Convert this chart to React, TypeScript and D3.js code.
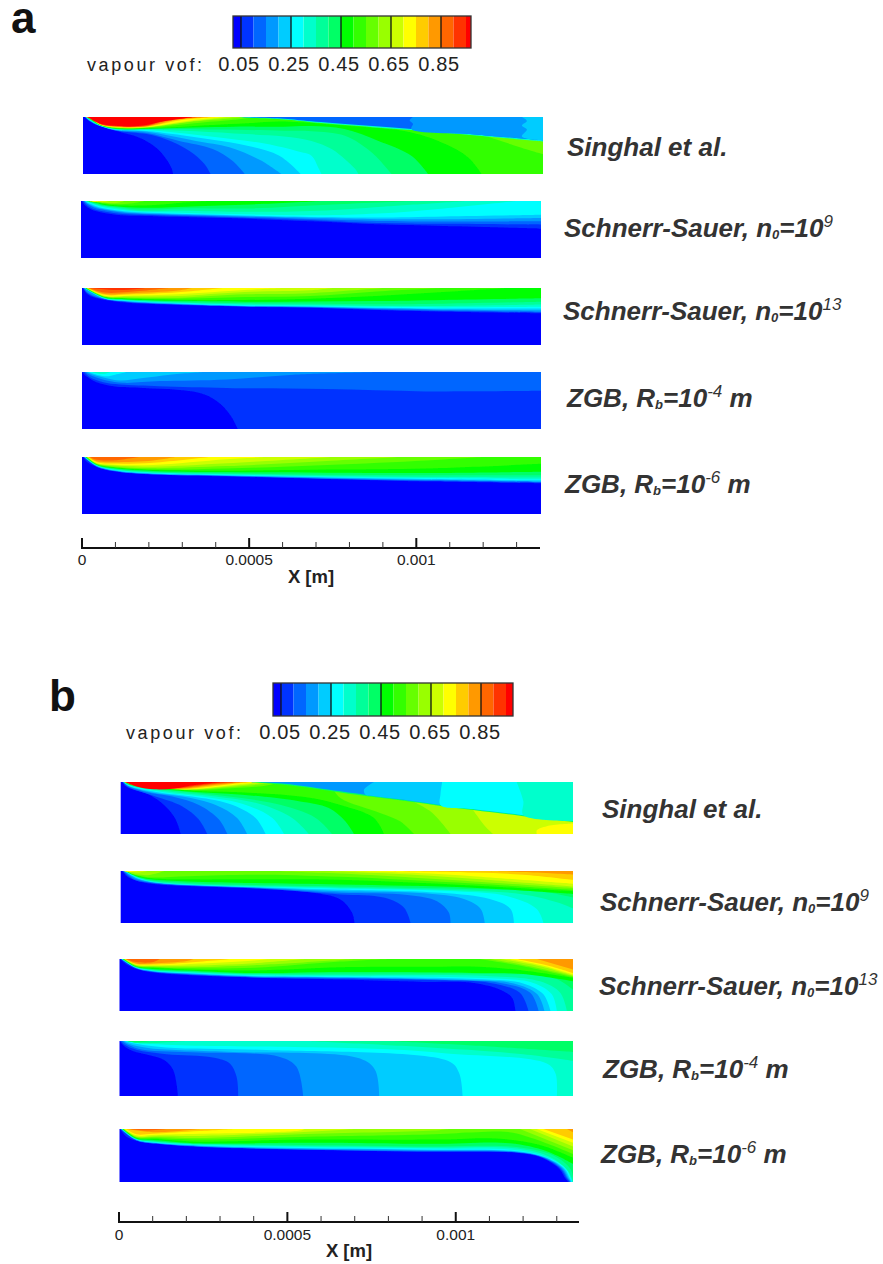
import React from 'react';
import * as d3 from 'd3';

type P = [number, number];
// [vapour fraction above this line, line as [x in mm, depth 0..1]]
type Contour = [number, P[]];

const thresholds = [0.05, 0.1, 0.15, 0.2, 0.25, 0.3, 0.35, 0.4, 0.45, 0.5, 0.55, 0.6, 0.65, 0.7, 0.75, 0.8, 0.85, 0.9, 0.95];
const bandColors = ['#0000ff', '#0033ff', '#0066ff', '#0099ff', '#00ccff', '#00ffff', '#00ffcc', '#00ff99', '#00ff66', '#00ff00', '#33ff00', '#66ff00', '#99ff00', '#ccff00', '#ffff00', '#ffcc00', '#ff9900', '#ff6600', '#ff3300', '#ff0000'];
const legendTicks = [0.05, 0.25, 0.45, 0.65, 0.85];
const majorTicks = [0, 0.0005, 0.001];
const majorLabels = ['0', '0.0005', '0.001'];
const minorTicks = [0.0001, 0.0002, 0.0003, 0.0004, 0.0006, 0.0007, 0.0008, 0.0009, 0.0011, 0.0012, 0.0013];

const color = d3.scaleThreshold<number, string>().domain(thresholds).range(bandColors);

// Panel a
const singhalA: Contour[] = [
  [0.05, [[0.006, 0], [0.018, 0.07], [0.05, 0.16], [0.1, 0.245], [0.167, 0.36], [0.217, 0.53], [0.249, 0.74], [0.265, 0.91], [0.269, 1]]],
  [0.1, [[0.0065, 0], [0.019, 0.068], [0.05, 0.157], [0.1, 0.24], [0.19, 0.3], [0.247, 0.39], [0.317, 0.59], [0.362, 0.82], [0.381, 1]]],
  [0.15, [[0.007, 0], [0.02, 0.066], [0.05, 0.155], [0.1, 0.235], [0.19, 0.28], [0.287, 0.42], [0.387, 0.56], [0.447, 0.77], [0.483, 1]]],
  [0.2, [[0.0075, 0], [0.021, 0.064], [0.05, 0.152], [0.1, 0.23], [0.19, 0.26], [0.337, 0.42], [0.437, 0.53], [0.53, 0.76], [0.592, 1]]],
  [0.25, [[0.008, 0], [0.022, 0.062], [0.05, 0.15], [0.1, 0.225], [0.19, 0.245], [0.267, 0.3], [0.387, 0.4], [0.487, 0.5], [0.586, 0.68], [0.65, 1]]],
  [0.3, [[0.0085, 0], [0.023, 0.06], [0.05, 0.147], [0.1, 0.22], [0.19, 0.23], [0.287, 0.28], [0.437, 0.38], [0.546, 0.47], [0.64, 0.6], [0.682, 0.68], [0.702, 0.885], [0.712, 1]]],
  [0.35, [[0.009, 0], [0.024, 0.058], [0.05, 0.145], [0.1, 0.215], [0.19, 0.22], [0.337, 0.25], [0.487, 0.3], [0.6, 0.34], [0.682, 0.42], [0.742, 0.56], [0.782, 0.74], [0.812, 0.91], [0.822, 1]]],
  [0.4, [[0.0095, 0], [0.025, 0.056], [0.05, 0.142], [0.1, 0.21], [0.19, 0.21], [0.4, 0.22], [0.6, 0.24], [0.682, 0.25], [0.782, 0.33], [0.861, 0.62], [0.921, 1]]],
  [0.45, [[0.01, 0], [0.026, 0.054], [0.05, 0.14], [0.1, 0.205], [0.22, 0.2], [0.45, 0.17], [0.6, 0.17], [0.682, 0.16], [0.78, 0.21], [0.88, 0.415], [0.98, 0.68], [1.03, 1]]],
  [0.5, [[0.0105, 0], [0.027, 0.052], [0.05, 0.137], [0.1, 0.2], [0.207, 0.195], [0.387, 0.14], [0.487, 0.11], [0.586, 0.08], [0.78, 0.15], [0.98, 0.27], [1.08, 0.47], [1.15, 0.71], [1.19, 1]]],
  [0.55, [[0.011, 0], [0.028, 0.05], [0.05, 0.135], [0.1, 0.195], [0.19, 0.19], [0.35, 0.1], [0.45, 0.05], [0.52, 0]]],
  [0.55, [[1.2, 0.33], [1.32, 0.56], [1.373, 0.65]]],
  [0.6, [[0.0112, 0], [0.029, 0.048], [0.05, 0.132], [0.1, 0.19], [0.19, 0.185], [0.33, 0.08], [0.43, 0.03], [0.48, 0]]],
  [0.65, [[0.0115, 0], [0.03, 0.046], [0.05, 0.13], [0.1, 0.185], [0.19, 0.18], [0.33, 0.07], [0.41, 0.02], [0.45, 0]]],
  [0.7, [[0.0118, 0], [0.031, 0.044], [0.05, 0.127], [0.1, 0.18], [0.19, 0.175], [0.32, 0.06], [0.42, 0]]],
  [0.75, [[0.012, 0], [0.032, 0.042], [0.05, 0.125], [0.1, 0.175], [0.19, 0.17], [0.3, 0.05], [0.4, 0]]],
  [0.8, [[0.0123, 0], [0.033, 0.04], [0.05, 0.122], [0.1, 0.17], [0.19, 0.165], [0.28, 0.05], [0.38, 0]]],
  [0.85, [[0.0125, 0], [0.034, 0.038], [0.05, 0.12], [0.1, 0.165], [0.19, 0.16], [0.26, 0.05], [0.36, 0]]],
  [0.9, [[0.0128, 0], [0.035, 0.036], [0.05, 0.117], [0.1, 0.16], [0.19, 0.15], [0.24, 0.065], [0.34, 0]]],
  [0.95, [[0.013, 0], [0.048, 0.11], [0.088, 0.15], [0.138, 0.165], [0.188, 0.14], [0.238, 0.08], [0.288, 0.035], [0.328, 0]]],
];
const shockA: P[] = [[0.45, 0], [0.6, 0.045], [0.682, 0.09], [0.98, 0.23], [1.18, 0.33], [1.373, 0.43]];
const shockAEdge: P[] = [[0.45, 0], [0.6, 0.03], [0.682, 0.075], [0.98, 0.21], [1.18, 0.31], [1.373, 0.41]];
const wedgeA: Contour[] = [
  [0.3, shockA],
  [0.1, shockAEdge],
  [0.15, [[0.985, 0], [0.975, 0.06], [0.985, 0.12], [0.98, 0.21], [1.18, 0.31], [1.373, 0.41]]],
  [0.2, [[1.31, 0], [1.325, 0.07], [1.31, 0.15], [1.325, 0.22], [1.31, 0.34], [1.373, 0.41]]],
];
const schnerr9A: Contour[] = [
  [0.05, [[0.003, 0], [0.011, 0.07], [0.031, 0.15], [0.061, 0.2], [0.121, 0.25], [0.24, 0.27], [0.44, 0.3], [0.709, 0.36], [0.885, 0.41], [1.084, 0.44], [1.373, 0.485]]],
  [0.1, [[0.006, 0], [0.015, 0.06], [0.035, 0.135], [0.065, 0.18], [0.125, 0.23], [0.245, 0.255], [0.44, 0.285], [0.709, 0.34], [0.885, 0.385], [1.084, 0.4], [1.373, 0.415]]],
  [0.15, [[0.008, 0], [0.018, 0.05], [0.04, 0.12], [0.07, 0.16], [0.13, 0.21], [0.25, 0.24], [0.44, 0.27], [0.709, 0.32], [0.885, 0.35], [1.084, 0.36], [1.373, 0.357]]],
  [0.2, [[0.01, 0], [0.022, 0.05], [0.045, 0.11], [0.075, 0.15], [0.14, 0.2], [0.26, 0.23], [0.45, 0.26], [0.709, 0.3], [0.885, 0.32], [1.084, 0.32], [1.373, 0.3]]],
  [0.25, [[0.012, 0], [0.026, 0.045], [0.05, 0.1], [0.08, 0.14], [0.15, 0.19], [0.27, 0.22], [0.46, 0.25], [0.709, 0.28], [0.885, 0.29], [1.084, 0.27], [1.373, 0.24]]],
  [0.3, [[0.014, 0], [0.03, 0.04], [0.055, 0.09], [0.09, 0.13], [0.16, 0.18], [0.28, 0.2], [0.46, 0.23], [0.709, 0.25], [0.885, 0.22], [1.084, 0.13], [1.3, 0]]],
  [0.35, [[0.016, 0], [0.035, 0.04], [0.06, 0.085], [0.1, 0.12], [0.17, 0.17], [0.3, 0.17], [0.5, 0.19], [0.709, 0.17], [0.9, 0.1], [1.15, 0]]],
  [0.4, [[0.018, 0], [0.04, 0.035], [0.065, 0.08], [0.11, 0.11], [0.18, 0.15], [0.3, 0.13], [0.5, 0.13], [0.75, 0.06], [1.0, 0]]],
  [0.45, [[0.02, 0], [0.045, 0.03], [0.07, 0.07], [0.12, 0.1], [0.2, 0.12], [0.35, 0.09], [0.55, 0.05], [0.72, 0]]],
  [0.5, [[0.022, 0], [0.05, 0.03], [0.08, 0.06], [0.13, 0.08], [0.22, 0.07], [0.3, 0.03], [0.38, 0]]],
  [0.55, [[0.024, 0], [0.055, 0.025], [0.09, 0.05], [0.14, 0.05], [0.19, 0]]],
  [0.6, [[0.027, 0], [0.06, 0.02], [0.1, 0.04], [0.13, 0]]],
  [0.65, [[0.03, 0], [0.065, 0.02], [0.085, 0]]],
  [0.7, [[0.02, 0], [0.04, 0.012], [0.06, 0]]],
];
const schnerr13A: Contour[] = [
  [0.05, [[0.003, 0], [0.013, 0.09], [0.033, 0.16], [0.068, 0.21], [0.138, 0.26], [0.287, 0.3], [0.486, 0.33], [0.682, 0.345], [0.88, 0.385], [1.08, 0.415], [1.373, 0.445]]],
  [0.1, [[0.004, 0], [0.015, 0.085], [0.035, 0.15], [0.07, 0.2], [0.138, 0.25], [0.287, 0.29], [0.486, 0.325], [0.682, 0.34], [0.88, 0.375], [1.08, 0.405], [1.373, 0.43]]],
  [0.15, [[0.005, 0], [0.017, 0.08], [0.037, 0.14], [0.072, 0.195], [0.138, 0.24], [0.287, 0.285], [0.486, 0.32], [0.682, 0.335], [0.88, 0.365], [1.08, 0.39], [1.373, 0.415]]],
  [0.2, [[0.006, 0], [0.068, 0.19], [0.138, 0.235], [0.287, 0.28], [0.486, 0.315], [0.682, 0.33], [0.88, 0.355], [1.08, 0.375], [1.373, 0.39]]],
  [0.25, [[0.007, 0], [0.068, 0.185], [0.138, 0.23], [0.287, 0.27], [0.486, 0.31], [0.682, 0.32], [0.88, 0.345], [1.08, 0.36], [1.373, 0.36]]],
  [0.3, [[0.008, 0], [0.068, 0.18], [0.138, 0.22], [0.287, 0.265], [0.486, 0.3], [0.682, 0.31], [0.88, 0.33], [1.08, 0.34], [1.373, 0.33]]],
  [0.35, [[0.009, 0], [0.068, 0.175], [0.138, 0.215], [0.287, 0.255], [0.486, 0.285], [0.682, 0.295], [0.88, 0.315], [1.08, 0.315], [1.373, 0.29]]],
  [0.4, [[0.01, 0], [0.068, 0.17], [0.138, 0.205], [0.287, 0.24], [0.486, 0.265], [0.682, 0.27], [0.88, 0.285], [1.08, 0.275], [1.373, 0.24]]],
  [0.45, [[0.011, 0], [0.068, 0.165], [0.138, 0.2], [0.287, 0.225], [0.486, 0.24], [0.682, 0.235], [0.88, 0.23], [1.08, 0.21], [1.373, 0.18]]],
  [0.5, [[0.012, 0], [0.068, 0.16], [0.138, 0.19], [0.287, 0.21], [0.486, 0.21], [0.682, 0.19], [0.88, 0.14], [1.08, 0.07], [1.27, 0]]],
  [0.55, [[0.013, 0], [0.068, 0.155], [0.138, 0.18], [0.287, 0.19], [0.486, 0.16], [0.682, 0.14], [0.88, 0.06], [1.08, 0]]],
  [0.6, [[0.014, 0], [0.068, 0.15], [0.138, 0.165], [0.287, 0.17], [0.486, 0.11], [0.682, 0.09], [0.9, 0]]],
  [0.65, [[0.015, 0], [0.068, 0.145], [0.138, 0.15], [0.287, 0.14], [0.486, 0.07], [0.682, 0.04], [0.75, 0]]],
  [0.7, [[0.016, 0], [0.068, 0.135], [0.138, 0.135], [0.287, 0.11], [0.486, 0.035], [0.6, 0]]],
  [0.75, [[0.017, 0], [0.068, 0.12], [0.138, 0.115], [0.287, 0.075], [0.42, 0]]],
  [0.8, [[0.018, 0], [0.068, 0.105], [0.138, 0.095], [0.287, 0.045], [0.33, 0]]],
  [0.85, [[0.02, 0], [0.068, 0.08], [0.138, 0.07], [0.26, 0]]],
  [0.9, [[0.03, 0], [0.08, 0.03], [0.14, 0.03], [0.19, 0]]],
];
const zgb4A: Contour[] = [
  [0.05, [[0, 0], [0.014, 0.08], [0.044, 0.18], [0.094, 0.25], [0.184, 0.28], [0.283, 0.31], [0.353, 0.37], [0.403, 0.51], [0.443, 0.75], [0.466, 1]]],
  [0.1, [[0.006, 0], [0.024, 0.09], [0.064, 0.18], [0.114, 0.22], [0.233, 0.25], [0.433, 0.28], [0.732, 0.3], [1.03, 0.34], [1.373, 0.33]]],
  [0.15, [[0.009, 0], [0.029, 0.065], [0.074, 0.15], [0.124, 0.19], [0.233, 0.16], [0.433, 0.13], [0.632, 0.047], [0.882, 0]]],
  [0.2, [[0.014, 0], [0.034, 0.05], [0.074, 0.11], [0.114, 0.15], [0.183, 0.105], [0.263, 0.047], [0.363, 0]]],
  [0.25, [[0.019, 0], [0.044, 0.047], [0.074, 0.076], [0.099, 0.047], [0.134, 0]]],
  [0.3, [[0.03, 0], [0.05, 0.03], [0.07, 0.03], [0.085, 0]]],
];
const zgb6A: Contour[] = [
  [0.05, [[0.004, 0], [0.014, 0.08], [0.044, 0.175], [0.094, 0.25], [0.213, 0.31], [0.432, 0.34], [0.732, 0.386], [1.03, 0.43], [1.373, 0.46]]],
  [0.1, [[0.005, 0], [0.044, 0.17], [0.094, 0.245], [0.213, 0.305], [0.432, 0.335], [0.732, 0.38], [1.03, 0.42], [1.373, 0.45]]],
  [0.15, [[0.006, 0], [0.044, 0.165], [0.094, 0.24], [0.213, 0.3], [0.432, 0.33], [0.732, 0.375], [1.03, 0.41], [1.373, 0.44]]],
  [0.2, [[0.007, 0], [0.044, 0.16], [0.094, 0.235], [0.213, 0.295], [0.432, 0.325], [0.732, 0.365], [1.03, 0.4], [1.373, 0.43]]],
  [0.25, [[0.008, 0], [0.044, 0.155], [0.094, 0.23], [0.213, 0.29], [0.432, 0.32], [0.732, 0.355], [1.03, 0.385], [1.373, 0.41]]],
  [0.3, [[0.009, 0], [0.044, 0.15], [0.094, 0.225], [0.213, 0.28], [0.432, 0.31], [0.732, 0.345], [1.03, 0.37], [1.373, 0.39]]],
  [0.35, [[0.01, 0], [0.044, 0.145], [0.094, 0.215], [0.213, 0.27], [0.432, 0.3], [0.732, 0.33], [1.03, 0.35], [1.373, 0.36]]],
  [0.4, [[0.011, 0], [0.044, 0.14], [0.094, 0.205], [0.213, 0.26], [0.432, 0.285], [0.732, 0.31], [1.03, 0.32], [1.373, 0.32]]],
  [0.45, [[0.012, 0], [0.044, 0.135], [0.094, 0.195], [0.213, 0.245], [0.432, 0.265], [0.732, 0.275], [1.03, 0.28], [1.373, 0.26]]],
  [0.5, [[0.013, 0], [0.044, 0.13], [0.094, 0.185], [0.213, 0.23], [0.432, 0.24], [0.732, 0.22], [1.03, 0.2], [1.373, 0.12]]],
  [0.55, [[0.014, 0], [0.044, 0.125], [0.094, 0.175], [0.213, 0.215], [0.432, 0.2], [0.732, 0.14], [1.03, 0.06], [1.2, 0]]],
  [0.6, [[0.015, 0], [0.044, 0.12], [0.094, 0.165], [0.213, 0.195], [0.432, 0.16], [0.732, 0.07], [0.95, 0]]],
  [0.65, [[0.016, 0], [0.044, 0.115], [0.094, 0.15], [0.213, 0.17], [0.432, 0.11], [0.75, 0]]],
  [0.7, [[0.017, 0], [0.044, 0.105], [0.094, 0.135], [0.213, 0.14], [0.432, 0.04], [0.55, 0]]],
  [0.75, [[0.018, 0], [0.044, 0.09], [0.094, 0.115], [0.213, 0.1], [0.38, 0]]],
  [0.8, [[0.02, 0], [0.044, 0.075], [0.094, 0.09], [0.213, 0.06], [0.28, 0]]],
  [0.85, [[0.024, 0], [0.044, 0.05], [0.094, 0.06], [0.17, 0]]],
];

// Panel b
const singhalB: Contour[] = [
  [0.05, [[0.005, 0], [0.015, 0.08], [0.045, 0.16], [0.084, 0.24], [0.134, 0.47], [0.164, 0.72], [0.179, 1]]],
  [0.1, [[0.006, 0], [0.018, 0.08], [0.055, 0.18], [0.104, 0.28], [0.184, 0.47], [0.233, 0.72], [0.258, 1]]],
  [0.15, [[0.007, 0], [0.02, 0.07], [0.074, 0.19], [0.154, 0.28], [0.233, 0.44], [0.293, 0.72], [0.318, 1]]],
  [0.2, [[0.008, 0], [0.022, 0.07], [0.094, 0.2], [0.184, 0.28], [0.283, 0.44], [0.347, 0.69], [0.377, 1]]],
  [0.25, [[0.009, 0], [0.024, 0.07], [0.114, 0.2], [0.213, 0.28], [0.323, 0.42], [0.402, 0.69], [0.432, 1]]],
  [0.3, [[0.0095, 0], [0.026, 0.065], [0.134, 0.2], [0.243, 0.28], [0.362, 0.42], [0.452, 0.69], [0.487, 1]]],
  [0.35, [[0.01, 0], [0.028, 0.065], [0.154, 0.19], [0.283, 0.28], [0.412, 0.42], [0.511, 0.69], [0.561, 1]]],
  [0.4, [[0.0105, 0], [0.03, 0.06], [0.174, 0.18], [0.323, 0.28], [0.462, 0.42], [0.581, 0.69], [0.63, 1]]],
  [0.45, [[0.011, 0], [0.032, 0.06], [0.193, 0.18], [0.362, 0.245], [0.531, 0.37], [0.62, 0.5], [0.67, 0.76], [0.695, 1]]],
  [0.5, [[0.0115, 0], [0.034, 0.055], [0.22, 0.17], [0.4, 0.21], [0.55, 0.29], [0.655, 0.44], [0.755, 0.69], [0.785, 1]]],
  [0.55, [[0.012, 0], [0.036, 0.055], [0.2, 0.155], [0.33, 0.12], [0.43, 0.07], [0.48, 0]]],
  [0.55, [[0.63, 0.1], [0.655, 0.31], [0.775, 0.6], [0.834, 0.76], [0.874, 1]]],
  [0.6, [[0.012, 0], [0.038, 0.05], [0.2, 0.15], [0.32, 0.1], [0.41, 0.05], [0.46, 0]]],
  [0.6, [[0.87, 0.37], [0.92, 0.55], [0.953, 0.76], [0.983, 1]]],
  [0.65, [[0.0125, 0], [0.04, 0.05], [0.19, 0.145], [0.31, 0.09], [0.39, 0.04], [0.44, 0]]],
  [0.65, [[1.05, 0.54], [1.06, 0.63], [1.09, 0.88], [1.11, 1]]],
  [0.7, [[0.0125, 0], [0.042, 0.045], [0.19, 0.14], [0.3, 0.08], [0.375, 0.03], [0.42, 0]]],
  [0.7, [[1.348, 0.8], [1.27, 0.85], [1.24, 0.93], [1.24, 1]]],
  [0.75, [[0.013, 0], [0.044, 0.045], [0.18, 0.135], [0.29, 0.07], [0.36, 0.02], [0.4, 0]]],
  [0.8, [[0.013, 0], [0.046, 0.04], [0.17, 0.13], [0.28, 0.06], [0.34, 0.02], [0.38, 0]]],
  [0.85, [[0.0135, 0], [0.048, 0.04], [0.16, 0.125], [0.27, 0.05], [0.32, 0.02], [0.36, 0]]],
  [0.9, [[0.0135, 0], [0.05, 0.04], [0.15, 0.12], [0.25, 0.05], [0.3, 0.015], [0.34, 0]]],
  [0.95, [[0.014, 0], [0.05, 0.09], [0.1, 0.14], [0.16, 0.125], [0.22, 0.06], [0.27, 0.02], [0.3, 0]]],
];
const shockB: P[] = [[0.38, 0], [0.48, 0.05], [0.58, 0.13], [0.655, 0.2], [0.754, 0.29], [0.854, 0.37], [0.953, 0.46], [1.05, 0.54], [1.19, 0.65], [1.348, 0.77]];
const wedgeB: Contour[] = [
  [0.4, shockB],
  [0.15, [[0.38, 0], [0.48, 0.03], [0.58, 0.11], [0.655, 0.18], [0.754, 0.27], [0.854, 0.35], [0.953, 0.44], [1.05, 0.52], [1.19, 0.63], [1.348, 0.75]]],
  [0.2, [[0.755, 0], [0.725, 0.15], [0.73, 0.245], [0.754, 0.27], [0.854, 0.35], [0.953, 0.44], [1.05, 0.52], [1.19, 0.63], [1.348, 0.75]]],
  [0.25, [[0.958, 0], [0.953, 0.24], [0.953, 0.44], [1.05, 0.52], [1.19, 0.63], [1.348, 0.75]]],
  [0.3, [[1.18, 0], [1.2, 0.37], [1.2, 0.635], [1.348, 0.75]]],
];
const schnerr9B: Contour[] = [
  [0.05, [[0.005, 0], [0.02, 0.11], [0.05, 0.19], [0.1, 0.25], [0.238, 0.3], [0.437, 0.35], [0.586, 0.43], [0.655, 0.55], [0.69, 0.81], [0.697, 1]]],
  [0.1, [[0.006, 0], [0.04, 0.17], [0.1, 0.24], [0.238, 0.295], [0.437, 0.345], [0.655, 0.45], [0.784, 0.51], [0.844, 0.7], [0.864, 1]]],
  [0.15, [[0.008, 0], [0.045, 0.16], [0.1, 0.23], [0.238, 0.285], [0.437, 0.335], [0.655, 0.42], [0.854, 0.46], [0.943, 0.58], [0.978, 0.8], [0.983, 1]]],
  [0.2, [[0.01, 0], [0.05, 0.15], [0.1, 0.22], [0.238, 0.28], [0.437, 0.325], [0.655, 0.39], [0.904, 0.43], [1.023, 0.54], [1.073, 0.73], [1.085, 1]]],
  [0.25, [[0.012, 0], [0.05, 0.14], [0.1, 0.215], [0.238, 0.275], [0.437, 0.315], [0.655, 0.36], [0.953, 0.42], [1.1, 0.54], [1.162, 0.73], [1.172, 1]]],
  [0.3, [[0.013, 0], [0.05, 0.13], [0.1, 0.21], [0.238, 0.27], [0.437, 0.31], [0.655, 0.34], [1.0, 0.39], [1.15, 0.48], [1.24, 0.73], [1.26, 1]]],
  [0.35, [[0.014, 0], [0.05, 0.12], [0.09, 0.19], [0.2, 0.25], [0.4, 0.29], [0.655, 0.32], [1.05, 0.38], [1.2, 0.45], [1.3, 0.6], [1.348, 0.72]]],
  [0.4, [[0.015, 0], [0.045, 0.1], [0.09, 0.18], [0.2, 0.23], [0.4, 0.27], [0.655, 0.3], [1.05, 0.35], [1.25, 0.39], [1.348, 0.51]]],
  [0.45, [[0.016, 0], [0.043, 0.09], [0.09, 0.16], [0.2, 0.2], [0.4, 0.23], [0.655, 0.26], [1.05, 0.32], [1.348, 0.44]]],
  [0.5, [[0.017, 0], [0.04, 0.07], [0.09, 0.14], [0.2, 0.16], [0.4, 0.16], [0.655, 0.17], [1.05, 0.28], [1.348, 0.39]]],
  [0.55, [[0.018, 0], [0.035, 0.06], [0.08, 0.12], [0.2, 0.1], [0.4, 0.07], [0.655, 0.11], [1.05, 0.24], [1.348, 0.36]]],
  [0.6, [[0.019, 0], [0.03, 0.04], [0.08, 0.08], [0.13, 0]]],
  [0.6, [[0.45, 0], [0.655, 0.05], [1.05, 0.2], [1.348, 0.33]]],
  [0.65, [[0.02, 0], [0.05, 0.03], [0.08, 0]]],
  [0.65, [[0.6, 0], [0.8, 0.05], [1.05, 0.15], [1.348, 0.3]]],
  [0.7, [[0.01, 0], [0.02, 0.02], [0.05, 0]]],
  [0.7, [[0.65, 0], [0.85, 0.03], [1.05, 0.1], [1.348, 0.25]]],
  [0.75, [[0.77, 0], [1.05, 0.03], [1.2, 0.07], [1.348, 0.17]]],
  [0.8, [[1.08, 0], [1.2, 0.02], [1.348, 0.07]]],
];
const schnerr13B: Contour[] = [
  [0.05, [[0.003, 0], [0.02, 0.1], [0.05, 0.19], [0.1, 0.26], [0.2, 0.31], [0.4, 0.36], [0.655, 0.395], [0.904, 0.44], [1.053, 0.46], [1.132, 0.59], [1.167, 0.745], [1.177, 1]]],
  [0.1, [[0.004, 0], [0.05, 0.185], [0.1, 0.25], [0.2, 0.3], [0.4, 0.355], [0.655, 0.38], [0.953, 0.41], [1.102, 0.46], [1.19, 0.65], [1.216, 1]]],
  [0.15, [[0.005, 0], [0.05, 0.18], [0.1, 0.245], [0.2, 0.29], [0.4, 0.345], [0.655, 0.365], [1.003, 0.41], [1.132, 0.46], [1.221, 0.65], [1.246, 1]]],
  [0.2, [[0.006, 0], [0.05, 0.175], [0.1, 0.235], [0.2, 0.28], [0.4, 0.335], [0.655, 0.355], [1.053, 0.41], [1.172, 0.47], [1.242, 0.68], [1.263, 1]]],
  [0.25, [[0.007, 0], [0.05, 0.17], [0.1, 0.23], [0.2, 0.27], [0.4, 0.325], [0.655, 0.345], [1.08, 0.39], [1.2, 0.47], [1.26, 0.68], [1.281, 1]]],
  [0.3, [[0.008, 0], [0.05, 0.165], [0.1, 0.225], [0.2, 0.26], [0.4, 0.315], [0.655, 0.33], [1.1, 0.37], [1.23, 0.46], [1.285, 0.68], [1.3, 1]]],
  [0.35, [[0.009, 0], [0.05, 0.16], [0.1, 0.215], [0.2, 0.25], [0.4, 0.3], [0.655, 0.31], [1.1, 0.33], [1.25, 0.43], [1.31, 0.65], [1.33, 1]]],
  [0.4, [[0.01, 0], [0.05, 0.155], [0.1, 0.205], [0.2, 0.235], [0.4, 0.285], [0.655, 0.28], [1.1, 0.29], [1.29, 0.36], [1.348, 0.59]]],
  [0.45, [[0.011, 0], [0.05, 0.15], [0.1, 0.19], [0.2, 0.22], [0.4, 0.27], [0.655, 0.25], [1.07, 0.27], [1.2, 0.29], [1.348, 0.43]]],
  [0.5, [[0.012, 0], [0.05, 0.145], [0.1, 0.17], [0.2, 0.2], [0.4, 0.22], [0.655, 0.16], [0.9, 0.15], [1.07, 0.15], [1.2, 0.22], [1.348, 0.36]]],
  [0.55, [[0.013, 0], [0.05, 0.14], [0.1, 0.16], [0.2, 0.18], [0.4, 0.17], [0.655, 0.05], [0.8, 0]]],
  [0.55, [[1.07, 0], [1.2, 0.14], [1.348, 0.35]]],
  [0.6, [[0.014, 0], [0.05, 0.13], [0.1, 0.15], [0.2, 0.16], [0.4, 0.12], [0.7, 0]]],
  [0.6, [[1.1, 0], [1.22, 0.14], [1.348, 0.33]]],
  [0.65, [[0.015, 0], [0.05, 0.12], [0.1, 0.135], [0.2, 0.13], [0.4, 0.08], [0.55, 0]]],
  [0.65, [[1.13, 0], [1.25, 0.14], [1.348, 0.32]]],
  [0.7, [[0.016, 0], [0.05, 0.11], [0.1, 0.12], [0.2, 0.1], [0.4, 0.03], [0.45, 0]]],
  [0.7, [[1.16, 0], [1.26, 0.13], [1.348, 0.3]]],
  [0.75, [[0.017, 0], [0.05, 0.1], [0.1, 0.105], [0.2, 0.07], [0.33, 0]]],
  [0.75, [[1.18, 0], [1.27, 0.12], [1.348, 0.27]]],
  [0.8, [[0.018, 0], [0.05, 0.085], [0.1, 0.085], [0.2, 0.04], [0.22, 0]]],
  [0.8, [[1.241, 0], [1.348, 0.2]]],
  [0.85, [[0.02, 0], [0.05, 0.06], [0.1, 0.06], [0.12, 0]]],
];
const zgb4B: Contour[] = [
  [0.05, [[0, 0], [0.015, 0.1], [0.04, 0.18], [0.09, 0.26], [0.134, 0.35], [0.16, 0.53], [0.174, 1]]],
  [0.1, [[0.004, 0], [0.015, 0.07], [0.05, 0.16], [0.14, 0.24], [0.278, 0.3], [0.328, 0.41], [0.348, 0.65], [0.353, 1]]],
  [0.15, [[0.008, 0], [0.025, 0.07], [0.07, 0.16], [0.238, 0.21], [0.477, 0.29], [0.526, 0.47], [0.546, 1]]],
  [0.2, [[0.012, 0], [0.03, 0.055], [0.09, 0.13], [0.338, 0.2], [0.715, 0.32], [0.76, 0.53], [0.772, 1]]],
  [0.25, [[0.016, 0], [0.04, 0.04], [0.139, 0.116], [0.437, 0.165], [0.983, 0.38], [1.01, 0.59], [1.02, 1]]],
  [0.3, [[0.02, 0], [0.05, 0.03], [0.2, 0.08], [0.4, 0.1], [0.8, 0.15], [0.973, 0.225], [1.27, 0.41], [1.296, 0.59], [1.3, 1]]],
  [0.35, [[0.022, 0], [0.06, 0.04], [0.2, 0]]],
  [0.35, [[0.55, 0], [0.9, 0.11], [1.2, 0.24], [1.348, 0.36]]],
  [0.4, [[0.024, 0], [0.045, 0.025], [0.09, 0]]],
  [0.4, [[0.8, 0], [1.1, 0.1], [1.348, 0.2]]],
];
const zgb6B: Contour[] = [
  [0.05, [[0.002, 0], [0.02, 0.14], [0.05, 0.22], [0.109, 0.28], [0.238, 0.34], [0.536, 0.39], [0.933, 0.43], [1.182, 0.45], [1.251, 0.535], [1.306, 0.745], [1.326, 0.94], [1.334, 1]]],
  [0.1, [[0.003, 0], [0.05, 0.215], [0.109, 0.275], [0.238, 0.335], [0.536, 0.385], [0.933, 0.425], [1.182, 0.445], [1.253, 0.53], [1.31, 0.745], [1.33, 0.94], [1.338, 1]]],
  [0.15, [[0.004, 0], [0.05, 0.21], [0.109, 0.27], [0.238, 0.33], [0.536, 0.38], [0.933, 0.415], [1.182, 0.44], [1.256, 0.53], [1.314, 0.745], [1.333, 0.94], [1.34, 1]]],
  [0.2, [[0.005, 0], [0.05, 0.205], [0.109, 0.265], [0.238, 0.32], [0.536, 0.37], [0.933, 0.4], [1.182, 0.43], [1.26, 0.53], [1.318, 0.745], [1.336, 0.94], [1.342, 1]]],
  [0.25, [[0.006, 0], [0.05, 0.2], [0.109, 0.26], [0.238, 0.31], [0.536, 0.36], [0.933, 0.39], [1.182, 0.42], [1.264, 0.53], [1.322, 0.745], [1.339, 0.94], [1.344, 1]]],
  [0.3, [[0.007, 0], [0.05, 0.195], [0.109, 0.25], [0.238, 0.3], [0.536, 0.34], [0.933, 0.37], [1.182, 0.4], [1.27, 0.53], [1.327, 0.745], [1.342, 0.94], [1.346, 1]]],
  [0.35, [[0.008, 0], [0.05, 0.19], [0.109, 0.24], [0.238, 0.29], [0.536, 0.32], [0.933, 0.35], [1.182, 0.37], [1.28, 0.53], [1.334, 0.8], [1.348, 1]]],
  [0.4, [[0.009, 0], [0.05, 0.185], [0.109, 0.23], [0.238, 0.28], [0.536, 0.3], [0.933, 0.33], [1.18, 0.34], [1.29, 0.5], [1.34, 0.75], [1.348, 0.9]]],
  [0.45, [[0.01, 0], [0.05, 0.18], [0.109, 0.21], [0.238, 0.27], [0.536, 0.26], [0.933, 0.28], [1.16, 0.27], [1.27, 0.42], [1.348, 0.66]]],
  [0.5, [[0.011, 0], [0.05, 0.17], [0.109, 0.19], [0.238, 0.24], [0.536, 0.2], [0.933, 0.2], [1.12, 0.18], [1.25, 0.3], [1.348, 0.54]]],
  [0.55, [[0.012, 0], [0.05, 0.16], [0.109, 0.17], [0.238, 0.2], [0.536, 0.15], [0.933, 0.1], [1.06, 0.06], [1.17, 0.07], [1.348, 0.47]]],
  [0.6, [[0.013, 0], [0.05, 0.15], [0.109, 0.15], [0.238, 0.17], [0.536, 0.1], [0.933, 0.03], [0.98, 0]]],
  [0.6, [[1.19, 0], [1.348, 0.4]]],
  [0.65, [[0.014, 0], [0.05, 0.14], [0.109, 0.13], [0.238, 0.13], [0.536, 0.06], [0.7, 0]]],
  [0.65, [[1.22, 0], [1.348, 0.33]]],
  [0.7, [[0.015, 0], [0.05, 0.12], [0.109, 0.11], [0.238, 0.09], [0.536, 0.03], [0.55, 0]]],
  [0.7, [[1.24, 0], [1.348, 0.26]]],
  [0.75, [[0.02, 0], [0.05, 0.1], [0.1, 0.09], [0.238, 0.04], [0.34, 0]]],
  [0.75, [[1.26, 0], [1.348, 0.2]]],
  [0.8, [[0.024, 0], [0.1, 0.06], [0.24, 0]]],
  [0.8, [[1.33, 0], [1.348, 0.06]]],
  [0.85, [[0.03, 0], [0.08, 0.03], [0.14, 0]]],
];

const smooth = d3.line().curve(d3.curveCatmullRom.alpha(0.5));

function Contours({ id, lines, over, xMax, box }: { id: string; lines: Contour[]; over?: Contour[]; xMax: number; box: number[] }) {
  const [x0, x1, y0, y1] = box;
  const x = d3.scaleLinear().domain([0, xMax]).range([x0, x1]);
  const y = d3.scaleLinear().domain([0, 1]).range([y0, y1]);
  const toPath = (pts: P[]) => {
    const scaled = pts.map((p) => [x(p[0]), y(p[1])] as [number, number]);
    const last = scaled[scaled.length - 1];
    // close over the upper right of the line
    return `${smooth(scaled)}L${x1},${last[1]}L${x1},${y0}Z`;
  };
  return (
    <g>
      <clipPath id={id}>
        <rect x={x0} y={y0} width={x1 - x0} height={y1 - y0} />
      </clipPath>
      <g clipPath={`url(#${id})`}>
        <g filter="url(#soft)">
          <rect x={x0 - 3} y={y0 - 3} width={x1 - x0 + 6} height={y1 - y0 + 6} fill={bandColors[0]} />
          {lines.concat(over || []).map((c, i) => (
            <path key={i} d={toPath(c[1])} fill={color(c[0])} />
          ))}
        </g>
      </g>
    </g>
  );
}

function Legend({ box, labelX, labelY, textShift }: { box: number[]; labelX: number; labelY: number; textShift: number }) {
  const [x0, x1, y0, y1] = box;
  const scale = d3.scaleLinear().domain([0.05, 0.85]).range([x0 + 8, x0 + 208]);
  const edges = [scale.invert(x0), ...thresholds, scale.invert(x1)];
  return (
    <g>
      {bandColors.map((c, i) => (
        <rect key={c} x={scale(edges[i])} y={y0} width={scale(edges[i + 1]) - scale(edges[i])} height={y1 - y0} fill={c} />
      ))}
      {legendTicks.map((t) => (
        <line key={t} x1={scale(t)} x2={scale(t)} y1={y0} y2={y1} stroke="#111" strokeWidth={1.3} />
      ))}
      <rect x={x0} y={y0} width={x1 - x0} height={y1 - y0} fill="none" stroke="#333" strokeWidth={1.3} />
      <text x={labelX} y={labelY} fontSize={18} textLength={115} fill="#222">vapour vof:</text>
      {legendTicks.map((t) => (
        <text key={t} x={scale(t) + textShift} y={labelY} fontSize={20} letterSpacing={0.7} textAnchor="middle" fill="#222">{t.toFixed(2)}</text>
      ))}
    </g>
  );
}

function XAxis({ range, baseY, domainEnd, labelY, titleY }: { range: number[]; baseY: number; domainEnd: number; labelY: number; titleY: number }) {
  const x = d3.scaleLinear().domain([0, domainEnd]).range(range);
  return (
    <g>
      <line x1={range[0] - 1} x2={range[1]} y1={baseY} y2={baseY} stroke="#111" strokeWidth={2} />
      {majorTicks.map((t) => (
        <line key={t} x1={x(t)} x2={x(t)} y1={baseY} y2={baseY - 10} stroke="#111" strokeWidth={2} />
      ))}
      {minorTicks.map((t) => (
        <line key={t} x1={x(t)} x2={x(t)} y1={baseY} y2={baseY - 6} stroke="#333" strokeWidth={1} />
      ))}
      {majorTicks.map((t, i) => (
        <text key={t} x={x(t)} y={labelY} fontSize={15.5} textAnchor="middle" fill="#222">{majorLabels[i]}</text>
      ))}
      <text x={x(domainEnd * 0.5)} y={titleY} fontSize={18.5} fontWeight="bold" textAnchor="middle" fill="#222">X [m]</text>
    </g>
  );
}

function Label({ x, y, name, sub, power, unit }: { x: number; y: number; name: string; sub?: string; power?: string; unit?: string }) {
  return (
    <text x={x} y={y} fontSize={26} fontWeight="bold" fontStyle="italic" fill="#333">
      {name}
      {sub && <tspan fontSize={13} dy={2}>{sub}</tspan>}
      {sub && <tspan dy={-2}>=10</tspan>}
      {power && <tspan fontSize={17} fontWeight="normal" dy={-10}>{power}</tspan>}
      {unit && <tspan dy={10}>{unit}</tspan>}
    </text>
  );
}

export default function App() {
  return (
    <svg width={883} height={1264} style={{ position: 'absolute', left: 0, top: 0, background: '#fff', fontFamily: '"Liberation Sans", Arial, sans-serif' }}>
      <defs>
        <filter id="soft" x="-2%" y="-10%" width="104%" height="120%">
          <feGaussianBlur stdDeviation="0.6" />
        </filter>
      </defs>

      <text x={11} y={33} fontSize={44} fontWeight="bold" fill="#111">a</text>
      <Legend box={[233, 471, 16, 48]} labelX={87} labelY={71} textShift={-2} />
      <Contours id="a1" lines={singhalA} over={wedgeA} xMax={1.373} box={[83, 543, 117, 174]} />
      <Contours id="a2" lines={schnerr9A} xMax={1.373} box={[81, 541, 201, 258]} />
      <Contours id="a3" lines={schnerr13A} xMax={1.373} box={[82, 541, 288, 345]} />
      <Contours id="a4" lines={zgb4A} xMax={1.373} box={[82, 541, 372, 429]} />
      <Contours id="a5" lines={zgb6A} xMax={1.373} box={[82, 541, 457, 514]} />
      <Label x={567} y={156} name="Singhal et al." />
      <Label x={564} y={237} name="Schnerr-Sauer, n" sub="0" power="9" />
      <Label x={563} y={320} name="Schnerr-Sauer, n" sub="0" power="13" />
      <Label x={567} y={407} name="ZGB, R" sub="b" power="-4" unit=" m" />
      <Label x={565} y={493} name="ZGB, R" sub="b" power="-6" unit=" m" />
      <XAxis range={[82, 540]} baseY={548} domainEnd={0.00137} labelY={565} titleY={583} />

      <text x={49} y={711} fontSize={44} fontWeight="bold" fill="#111">b</text>
      <Legend box={[273, 513, 683, 716]} labelX={126} labelY={739} textShift={-1} />
      <Contours id="b1" lines={singhalB} over={wedgeB} xMax={1.348} box={[120.7, 573, 782, 834]} />
      <Contours id="b2" lines={schnerr9B} xMax={1.348} box={[120.7, 573, 871, 923]} />
      <Contours id="b3" lines={schnerr13B} xMax={1.348} box={[119.5, 573, 959, 1011]} />
      <Contours id="b4" lines={zgb4B} xMax={1.348} box={[119.5, 573, 1041, 1096]} />
      <Contours id="b5" lines={zgb6B} xMax={1.348} box={[119.5, 573, 1129, 1182]} />
      <Label x={602} y={818} name="Singhal et al." />
      <Label x={600} y={911} name="Schnerr-Sauer, n" sub="0" power="9" />
      <Label x={599} y={995} name="Schnerr-Sauer, n" sub="0" power="13" />
      <Label x={603} y={1078} name="ZGB, R" sub="b" power="-4" unit=" m" />
      <Label x={601} y={1163} name="ZGB, R" sub="b" power="-6" unit=" m" />
      <XAxis range={[119, 579]} baseY={1222} domainEnd={0.001366} labelY={1240} titleY={1257} />
    </svg>
  );
}
